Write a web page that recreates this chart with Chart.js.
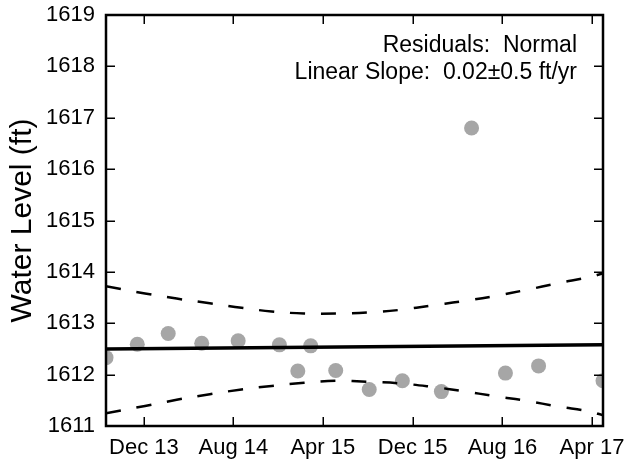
<!DOCTYPE html>
<html>
<head>
<meta charset="utf-8">
<script src="https://cdn.jsdelivr.net/npm/chart.js@4/dist/chart.umd.min.js"></script>
<style>
  html, body { margin: 0; padding: 0; background: #fff; }
  #wrap { width: 624px; height: 459px; }
</style>
</head>
<body>
<div id="wrap"><canvas id="levelChart" width="624" height="459"></canvas></div>
<script>
// observed water levels
var obsDates = ['2013-08-20', '2013-11-13', '2014-02-05', '2014-05-07', '2014-08-14', '2014-12-04',
    '2015-01-23', '2015-02-27', '2015-05-06', '2015-08-05', '2015-11-03', '2016-02-17',
    '2016-05-09', '2016-08-09', '2016-11-07', '2017-05-01'];
var waterLevel = [1612.33, 1612.59, 1612.80, 1612.61, 1612.66, 1612.58,
    1612.07, 1612.56, 1612.08, 1611.71, 1611.88, 1611.67,
    1616.80, 1612.03, 1612.17, 1611.88];

// linear fit
var fitDates = ['2013-08-20', '2017-05-01'];
var fitLevel = [1612.50, 1612.58];

// confidence band
var bandDates = ['2013-08-20', '2013-12-04', '2014-02-28', '2014-05-29', '2014-08-23', '2014-11-13',
    '2015-02-09', '2015-05-08', '2015-08-02', '2015-10-27', '2016-01-25', '2016-04-16',
    '2016-07-11', '2016-10-05', '2016-12-30', '2017-03-26', '2017-05-01'];
var bandUpper = [1613.72, 1613.58, 1613.48, 1613.39, 1613.30, 1613.23,
    1613.19, 1613.19, 1613.21, 1613.26, 1613.35, 1613.43,
    1613.53, 1613.65, 1613.78, 1613.90, 1613.97];
var bandLower = [1611.25, 1611.39, 1611.51, 1611.62, 1611.71, 1611.78,
    1611.84, 1611.88, 1611.86, 1611.83, 1611.76, 1611.68,
    1611.58, 1611.49, 1611.38, 1611.28, 1611.21];

var xTickDates = ['2013-12-01', '2014-08-01', '2015-04-01', '2015-12-01', '2016-08-01', '2017-04-01'];
var xTickLabels = ['Dec 13', 'Aug 14', 'Apr 15', 'Dec 15', 'Aug 16', 'Apr 17'];
var yTicks = [1611, 1612, 1613, 1614, 1615, 1616, 1617, 1618, 1619];

var noteLines = ['Residuals:  Normal', 'Linear Slope:  0.02\u00b10.5 ft/yr'];

var FONT = "'Liberation Sans', Arial, Helvetica, sans-serif";

function dayNum(s) {
    return Date.parse(s + 'T00:00:00Z') / 86400000;
}
function toPoints(dates, vals) {
    return dates.map(function (d, i) { return { x: dayNum(d), y: vals[i] }; });
}
// keep tick labels from pushing the plot area around
function noPad(scale) {
    scale.paddingLeft = 0;
    scale.paddingRight = 0;
    scale.paddingTop = 0;
    scale.paddingBottom = 0;
}

// frame, inward ticks on all four sides, and the note text
var framePlugin = {
    id: 'frame',
    afterDraw: function (chart) {
        var ctx = chart.ctx, a = chart.chartArea;
        var xs = chart.scales.x, ys = chart.scales.y;
        var tl = 9;
        ctx.save();
        ctx.strokeStyle = '#000';
        ctx.lineWidth = 1.5;
        ctx.beginPath();
        xTickDates.forEach(function (d) {
            var px = Math.round(xs.getPixelForValue(dayNum(d))) + 0.25;
            ctx.moveTo(px, a.bottom); ctx.lineTo(px, a.bottom - tl);
            ctx.moveTo(px, a.top); ctx.lineTo(px, a.top + tl);
        });
        yTicks.forEach(function (v) {
            var py = Math.round(ys.getPixelForValue(v)) + 0.25;
            ctx.moveTo(a.left, py); ctx.lineTo(a.left + tl, py);
            ctx.moveTo(a.right, py); ctx.lineTo(a.right - tl, py);
        });
        ctx.stroke();
        ctx.lineWidth = 2.5;
        ctx.strokeRect(a.left, a.top, a.right - a.left, a.bottom - a.top);

        ctx.fillStyle = '#000';
        ctx.font = '23px ' + FONT;
        ctx.textAlign = 'right';
        ctx.textBaseline = 'alphabetic';
        ctx.fillText(noteLines[0], 577, 52);
        ctx.fillText(noteLines[1], 577, 79);
        ctx.restore();
    }
};

function loadChart() {
    var ctx = document.getElementById('levelChart').getContext('2d');
    var xMin = dayNum(obsDates[0]);
    var xMax = dayNum(obsDates[obsDates.length - 1]);

    new Chart(ctx, {
        type: 'scatter',
        data: {
            datasets: [{
                label: 'Fit',
                data: toPoints(fitDates, fitLevel),
                showLine: true,
                borderColor: '#000',
                borderWidth: 3.5,
                pointRadius: 0,
                clip: 0,
                order: 0
            }, {
                label: 'Upper',
                data: toPoints(bandDates, bandUpper),
                showLine: true,
                borderColor: '#000',
                borderWidth: 2.5,
                borderDash: [15, 16],
                tension: 0.4,
                pointRadius: 0,
                clip: 0,
                order: 0
            }, {
                label: 'Lower',
                data: toPoints(bandDates, bandLower),
                showLine: true,
                borderColor: '#000',
                borderWidth: 2.5,
                borderDash: [15, 16],
                tension: 0.4,
                pointRadius: 0,
                clip: 0,
                order: 0
            }, {
                label: 'Water level',
                data: toPoints(obsDates, waterLevel),
                backgroundColor: '#a6a6a6',
                borderColor: '#a6a6a6',
                borderWidth: 0,
                pointRadius: 7.5,
                clip: 0,
                order: 1
            }]
        },
        options: {
            responsive: false,
            animation: false,
            layout: { padding: { left: 0, right: 21, top: 15, bottom: 0 } },
            plugins: {
                legend: { display: false },
                tooltip: { enabled: false }
            },
            scales: {
                x: {
                    type: 'linear',
                    min: xMin,
                    max: xMax,
                    grid: { display: false, drawTicks: false },
                    border: { display: false },
                    afterBuildTicks: function (scale) {
                        scale.ticks = xTickDates.map(function (d) { return { value: dayNum(d) }; });
                    },
                    afterFit: function (scale) { scale.height = 33; noPad(scale); },
                    ticks: {
                        color: '#000',
                        font: { family: FONT, size: 22 },
                        padding: 9,
                        maxRotation: 0,
                        autoSkip: false,
                        callback: function (value) {
                            var i = xTickDates.map(dayNum).indexOf(value);
                            return i >= 0 ? xTickLabels[i] : '';
                        }
                    }
                },
                y: {
                    min: 1611,
                    max: 1619,
                    grid: { display: false, drawTicks: false },
                    border: { display: false },
                    afterBuildTicks: function (scale) {
                        scale.ticks = yTicks.map(function (v) { return { value: v }; });
                    },
                    afterFit: function (scale) { scale.width = 106; noPad(scale); },
                    ticks: {
                        color: '#000',
                        font: { family: FONT, size: 22 },
                        padding: 11,
                        callback: function (value) { return String(value); }
                    },
                    title: {
                        display: true,
                        text: 'Water Level (ft)',
                        color: '#000',
                        font: { family: FONT, size: 30 },
                        padding: { top: 5, bottom: 0 }
                    }
                }
            }
        },
        plugins: [framePlugin]
    });
}

loadChart();
</script>
</body>
</html>
